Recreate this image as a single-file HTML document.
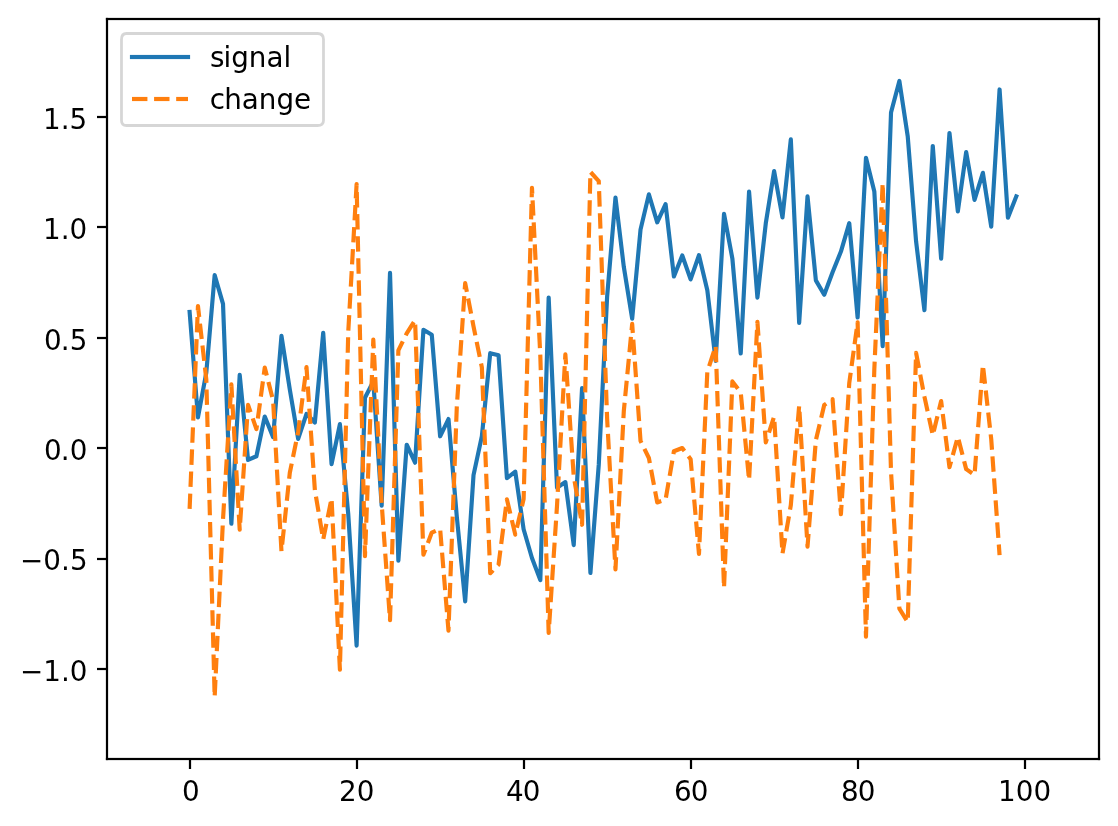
<!DOCTYPE html>
<html lang="en"><head><meta charset="utf-8"><title>signal / change</title>
<style>html,body{margin:0;padding:0;background:#fff}svg{display:block}</style></head>
<body>
<svg width="1118" height="826" viewBox="0 0 1118 826">
<rect width="1118" height="826" fill="#fff"/>
<clipPath id="c"><rect x="106.944" y="19.356" width="992.000" height="739.200"/></clipPath>
<g clip-path="url(#c)" fill="none" stroke-width="4.167" stroke-linejoin="round">
<polyline points="189.61,311.94 197.96,417.34 206.31,372.63 214.66,275.09 223.01,303.94 231.36,523.78 239.71,374.84 248.06,459.96 256.41,456.24 264.76,416.53 273.11,437.13 281.46,335.88 289.81,389.45 298.16,438.86 306.51,413.96 314.86,422.48 323.21,332.80 331.56,464.12 339.91,424.07 348.26,514.26 356.61,645.55 364.96,397.75 373.31,381.46 381.66,505.61 390.02,272.86 398.37,560.65 406.72,444.73 415.07,462.73 423.42,329.81 431.77,334.71 440.12,436.29 448.47,419.04 456.82,516.87 465.17,601.33 473.52,475.15 481.87,436.18 490.22,353.19 498.57,355.34 506.92,478.19 515.27,471.62 523.62,529.29 531.97,558.00 540.32,580.12 548.67,297.51 557.02,487.65 565.37,482.11 573.72,545.07 582.07,388.18 590.42,572.98 598.77,464.70 607.12,296.67 615.47,197.57 623.82,266.94 632.17,318.70 640.52,229.64 648.87,194.37 657.22,222.33 665.57,204.09 673.92,276.49 682.27,255.50 690.62,279.43 698.97,255.25 707.32,290.30 715.67,360.87 724.02,213.76 732.37,258.52 740.72,353.45 749.07,191.70 757.42,297.58 765.77,223.45 774.12,171.12 782.47,217.50 790.82,139.42 799.17,322.89 807.52,196.37 815.87,280.39 824.22,294.76 832.57,272.20 840.92,251.54 849.27,223.13 857.62,317.51 865.97,157.85 874.32,191.48 882.68,346.18 891.03,112.46 899.38,80.96 907.73,136.37 916.08,241.37 924.43,310.21 932.78,145.98 941.13,258.62 949.48,133.00 957.83,211.37 966.18,151.99 974.53,199.93 982.88,172.86 991.23,226.65 999.58,89.46 1007.93,217.66 1016.28,196.40" stroke="#1f77b4" stroke-linecap="square"/>
<polyline points="189.61,508.95 197.96,306.01 206.31,379.57 214.66,696.96 223.01,519.16 231.36,384.44 239.71,529.66 248.06,404.83 256.41,429.15 264.76,367.61 273.11,400.58 281.46,551.24 289.81,472.77 298.16,431.88 306.51,367.10 314.86,489.90 323.21,539.53 331.56,498.41 339.91,669.74 348.26,331.75 356.61,184.17 364.96,556.12 373.31,339.66 381.66,503.30 390.02,620.13 398.37,350.34 406.72,333.35 415.07,320.25 423.42,554.74 431.77,532.59 440.12,528.84 448.47,630.56 456.82,406.54 465.17,283.11 473.52,326.30 481.87,367.43 490.22,573.27 498.57,564.54 506.92,499.36 515.27,534.64 523.62,499.09 531.97,187.77 540.32,355.79 548.67,632.87 557.02,505.69 565.37,354.32 573.72,476.17 582.07,524.78 590.42,171.95 598.77,181.13 607.12,418.54 615.47,569.40 623.82,410.96 632.17,323.92 640.52,440.94 648.87,457.99 657.22,502.42 665.57,499.67 673.92,451.21 682.27,448.01 690.62,459.13 698.97,553.88 707.32,371.71 715.67,345.91 724.02,587.95 732.37,381.45 740.72,392.40 749.07,480.01 757.42,321.80 765.77,442.31 774.12,416.55 782.47,553.65 790.82,505.22 799.17,405.76 807.52,546.65 815.87,440.07 824.22,405.04 832.57,399.19 840.92,514.23 849.27,382.99 857.62,322.23 865.97,636.59 874.32,369.24 882.68,183.03 891.03,472.18 899.38,608.68 907.73,622.10 916.08,352.87 924.43,396.67 932.78,435.28 941.13,401.01 949.48,467.26 957.83,436.82 966.18,469.13 974.53,474.99 982.88,364.86 991.23,439.27 999.58,555.20" stroke="#ff7f0e" stroke-linecap="butt" stroke-dasharray="15.417 6.667"/>
</g>
<g fill="#000">
<rect x="188.889" y="759.000" width="2.222" height="10.000"/>
<rect x="355.889" y="759.000" width="2.222" height="10.000"/>
<rect x="522.889" y="759.000" width="2.222" height="10.000"/>
<rect x="689.889" y="759.000" width="2.222" height="10.000"/>
<rect x="856.889" y="759.000" width="2.222" height="10.000"/>
<rect x="1023.889" y="759.000" width="2.222" height="10.000"/>
<rect x="97.000" y="667.889" width="10.000" height="2.222"/>
<rect x="97.000" y="557.889" width="10.000" height="2.222"/>
<rect x="97.000" y="446.889" width="10.000" height="2.222"/>
<rect x="97.000" y="336.889" width="10.000" height="2.222"/>
<rect x="97.000" y="225.889" width="10.000" height="2.222"/>
<rect x="97.000" y="115.889" width="10.000" height="2.222"/>
<rect x="105.889" y="17.889" width="2.222" height="742.222"/>
<rect x="1097.889" y="17.889" width="2.222" height="742.222"/>
<rect x="105.889" y="757.889" width="994.222" height="2.222"/>
<rect x="105.889" y="17.889" width="994.222" height="2.222"/>
</g>
<path d="M126.5 125.5L317.5 125.5Q323.5 125.5 323.5 120.5L323.5 39.5Q323.5 33.5 317.5 33.5L126.5 33.5Q121.5 33.5 121.5 39.5L121.5 120.5Q121.5 125.5 126.5 125.5Z" fill="#fff" fill-opacity="0.8" stroke="#ccc" stroke-opacity="0.8" stroke-width="2.778" stroke-linejoin="miter"/>
<g fill="#1f77b4">
<rect x="129.917" y="54.917" width="60.167" height="4.167"/>
</g>
<g fill="#ff7f0e">
<rect x="132.000" y="96.917" width="15.417" height="4.167"/>
<rect x="154.083" y="96.917" width="15.417" height="4.167"/>
<rect x="176.167" y="96.917" width="11.833" height="4.167"/>
</g>
<g font-family="'DejaVu Sans', 'Liberation Sans', sans-serif" font-size="27.778px" fill="#000">
<text id="t_x0" x="182.00" y="800.50">0</text>
<text id="t_x20" x="339.00 356.75" y="800.50">20</text>
<text id="t_x40" x="506.00 522.75" y="800.50">40</text>
<text id="t_x60" x="674.00 690.75" y="800.50">60</text>
<text id="t_x80" x="841.00 857.75" y="800.50">80</text>
<text id="t_x100" x="998.00 1015.75 1033.50" y="800.50">100</text>
<text id="t_y-1.0" x="20.00 43.25 61.00 69.75" y="680.50">−1.0</text>
<text id="t_y-0.5" x="20.00 43.25 61.00 70.00" y="569.50">−0.5</text>
<text id="t_y0.0" x="44.00 60.75 69.75" y="459.50">0.0</text>
<text id="t_y0.5" x="44.00 60.75 69.75" y="349.50">0.5</text>
<text id="t_y1.0" x="43.00 60.75 69.50" y="238.50">1.0</text>
<text id="t_y1.5" x="43.00 60.75 69.50" y="128.50">1.5</text>
<text id="t_signal" x="210.00 223.50 231.25 248.75 266.50 283.50" y="67.40">signal</text>
<text id="t_change" x="209.75 224.25 241.75 258.75 276.50 294.00" y="109.30">change</text>
</g>
</svg>
</body></html>
